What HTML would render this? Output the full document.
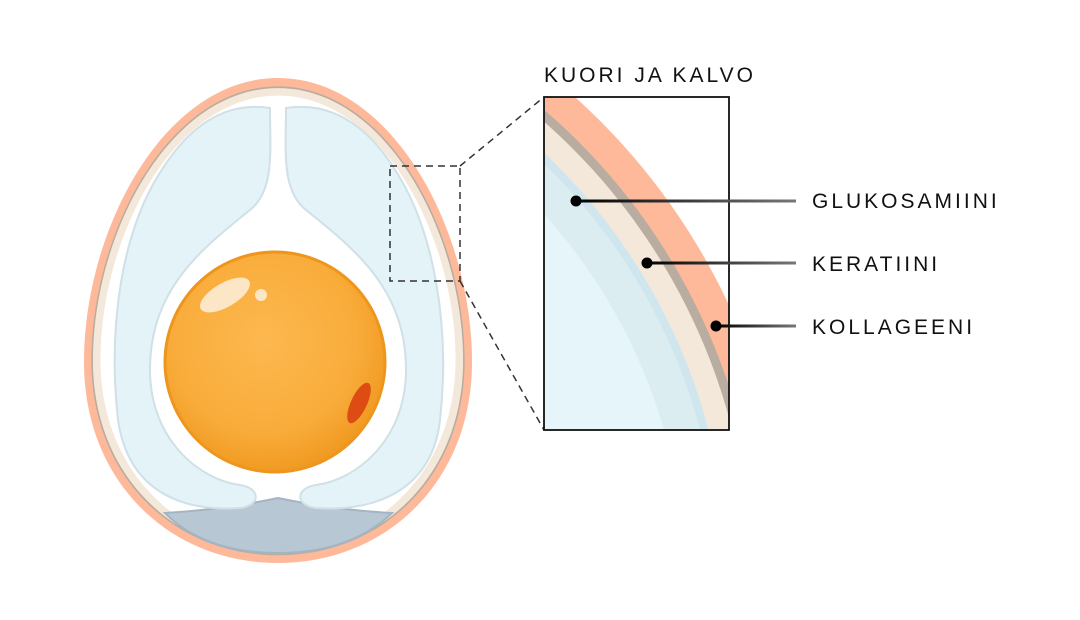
<!DOCTYPE html>
<html><head><meta charset="utf-8"><style>
html,body{margin:0;padding:0;background:#fff;width:1080px;height:620px;overflow:hidden;}
svg{display:block;}
text{font-family:"Liberation Sans",sans-serif;fill:#111;}
</style></head><body>
<svg width="1080" height="620" viewBox="0 0 1080 620" xmlns="http://www.w3.org/2000/svg">
<defs>
<linearGradient id="lg" x1="0" x2="1" y1="0" y2="0"><stop offset="0" stop-color="#000"/><stop offset="1" stop-color="#777"/></linearGradient>
<clipPath id="box"><rect x="544" y="97" width="185" height="333"/></clipPath>
<radialGradient id="yk" cx="0.45" cy="0.4" r="0.6"><stop offset="0" stop-color="#fcb84f"/><stop offset="0.7" stop-color="#f9ac3a"/><stop offset="1" stop-color="#f09a22"/></radialGradient>
<path id="egg" d="M278,78 C392,78 472,230 472,362 C472,482 386,563 278,563 C170,563 84,482 84,362 C84,230 164,78 278,78 Z"/>
</defs>
<use href="#egg" fill="#fdb99a"/>
<g transform="translate(278,330) scale(0.962,0.967) translate(-278,-330)"><use href="#egg" fill="#b8ada0"/></g>
<g transform="translate(278,330) scale(0.954,0.96) translate(-278,-330)"><use href="#egg" fill="#f3e8d9"/></g>
<g transform="translate(278,330) scale(0.915,0.93) translate(-278,-330)"><use href="#egg" fill="#ffffff"/></g>
<path d="M165,513 Q220,510 278,498 Q335,510 392,513 Q350,553 278,553 Q205,553 165,513 Z" fill="#b8c7d4" stroke="#a3b4c4" stroke-width="2"/>
<path d="M270,108 C270,150 275,190 250,210 C200,250 150,290 150,370 C150,440 200,480 240,485 C260,488 262,505 240,508 C180,512 128,490 118,420 C108,330 120,230 165,165 C195,120 230,102 270,108 Z" fill="#e4f3f8" stroke="#cfe0e6" stroke-width="2"/>
<path d="M286,108 C286,150 281,190 306,210 C356,250 406,290 406,370 C406,440 356,480 316,485 C296,488 294,505 316,508 C376,512 432,490 440,420 C450,330 436,230 392,165 C362,120 326,102 286,108 Z" fill="#e4f3f8" stroke="#cfe0e6" stroke-width="2"/>
<circle cx="275" cy="362" r="110" fill="url(#yk)" stroke="#ee951d" stroke-width="3"/>
<ellipse cx="225" cy="295" rx="28" ry="12" transform="rotate(-30 225 295)" fill="#fde6c6"/>
<circle cx="261" cy="295" r="6" fill="#fde6c6"/>
<ellipse cx="359" cy="403" rx="8" ry="22" transform="rotate(25 359 403)" fill="#dd4c12"/>
<g stroke="#333" stroke-width="1.5" fill="none" stroke-dasharray="7,5">
<rect x="390" y="166" width="70" height="115"/>
<line x1="460" y1="166" x2="544" y2="97"/>
<line x1="460" y1="281" x2="544" y2="430"/>
</g>
<g clip-path="url(#box)">
<rect x="544" y="97" width="185" height="333" fill="#fff"/>
<circle cx="140" cy="580" r="650" fill="#fdb99a"/>
<circle cx="140" cy="580" r="620" fill="#b8ada0"/>
<circle cx="140" cy="580" r="611" fill="#f3e8d9"/>
<circle cx="140" cy="580" r="588" fill="#cfe6ee"/>
<circle cx="140" cy="580" r="580" fill="#dcedf2"/>
<circle cx="140" cy="580" r="545" fill="#e6f5fa"/>
</g>
<rect x="544" y="97" width="185" height="333" fill="none" stroke="#111" stroke-width="1.8"/>
<text x="544" y="82" font-size="21" letter-spacing="3">KUORI JA KALVO</text>
<rect x="576" y="199.5" width="220" height="3" fill="url(#lg)"/>
<circle cx="576" cy="201" r="5.5" fill="#000"/>
<rect x="647" y="261.5" width="149" height="3" fill="url(#lg)"/>
<circle cx="647" cy="263" r="5.5" fill="#000"/>
<rect x="716" y="324.5" width="80" height="3" fill="url(#lg)"/>
<circle cx="716" cy="326" r="5.5" fill="#000"/>
<text x="812" y="208" font-size="21" letter-spacing="3">GLUKOSAMIINI</text>
<text x="812" y="271" font-size="21" letter-spacing="3">KERATIINI</text>
<text x="812" y="334" font-size="21" letter-spacing="3">KOLLAGEENI</text>
</svg>
</body></html>
